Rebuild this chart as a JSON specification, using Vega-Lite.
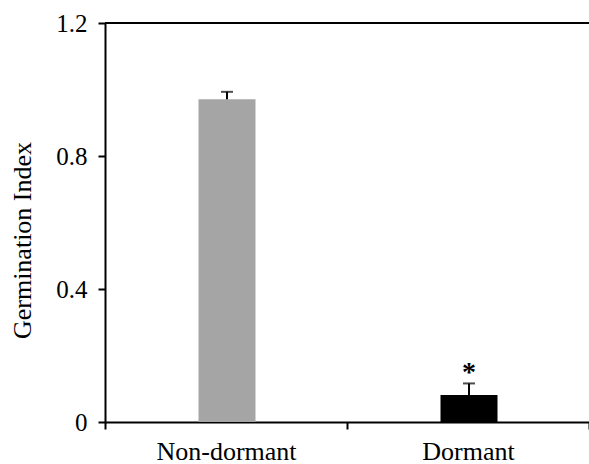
{
  "$schema": "https://vega.github.io/schema/vega-lite/v6.json",
  "width": 484,
  "height": 399,
  "autosize": "none",
  "padding": {"left": 105, "top": 23, "right": 0, "bottom": 42},
  "background": "white",
  "config": {"view": {"stroke": null}},
  "data": {"values": [
    {"group": "Non-dormant", "value": 0.971, "upper": 0.993, "sig": ""},
    {"group": "Dormant", "value": 0.081, "upper": 0.116, "sig": "*"}
  ]},
  "layer": [
    {
      "mark": {"type": "rule", "color": "black", "strokeWidth": 2},
      "encoding": {"y": {"datum": 1.2, "type": "quantitative"}}
    },
    {
      "mark": {"type": "bar", "size": 57, "xOffset": 1},
      "encoding": {
        "x": {
          "field": "group", "type": "nominal", "sort": ["Non-dormant", "Dormant"],
          "scale": {"paddingInner": 0, "paddingOuter": 0},
          "axis": {
            "title": null, "labelAngle": 0, "labelFont": "Liberation Serif", "labelFontSize": 26,
            "labelColor": "black", "domainColor": "black", "domainWidth": 2, "tickColor": "black",
            "tickWidth": 2, "tickSize": 7, "tickBand": "extent", "labelPadding": 9
          }
        },
        "y": {
          "field": "value", "type": "quantitative",
          "scale": {"domain": [0, 1.2], "nice": false},
          "axis": {
            "title": "Germination Index", "values": [0, 0.4, 0.8, 1.2], "format": ".1~f", "grid": false,
            "labelFont": "Liberation Serif", "labelFontSize": 25, "labelColor": "black",
            "titleFont": "Liberation Serif", "titleFontSize": 26, "titleFontWeight": "normal",
            "titleColor": "black", "titlePadding": 20, "titleY": 217,
            "domainColor": "black", "domainWidth": 2, "tickColor": "black", "tickWidth": 2,
            "tickSize": 7, "labelPadding": 11
          }
        },
        "color": {
          "field": "group", "type": "nominal",
          "scale": {"domain": ["Non-dormant", "Dormant"], "range": ["#a5a5a5", "#000000"]},
          "legend": null
        }
      }
    },
    {
      "mark": {"type": "rule", "color": "black", "strokeWidth": 2, "xOffset": 1},
      "encoding": {
        "x": {"field": "group", "type": "nominal", "sort": ["Non-dormant", "Dormant"]},
        "y": {"field": "value", "type": "quantitative"},
        "y2": {"field": "upper"}
      }
    },
    {
      "mark": {"type": "tick", "color": "black", "thickness": 2, "size": 12, "orient": "horizontal", "xOffset": 1},
      "encoding": {
        "x": {"field": "group", "type": "nominal", "sort": ["Non-dormant", "Dormant"]},
        "y": {"field": "upper", "type": "quantitative"}
      }
    },
    {
      "mark": {"type": "text", "font": "Liberation Serif", "fontSize": 28, "fontWeight": "bold", "color": "black", "baseline": "middle", "dy": -10, "dx": 1},
      "encoding": {
        "x": {"field": "group", "type": "nominal", "sort": ["Non-dormant", "Dormant"]},
        "y": {"field": "upper", "type": "quantitative"},
        "text": {"field": "sig"}
      }
    }
  ]
}
